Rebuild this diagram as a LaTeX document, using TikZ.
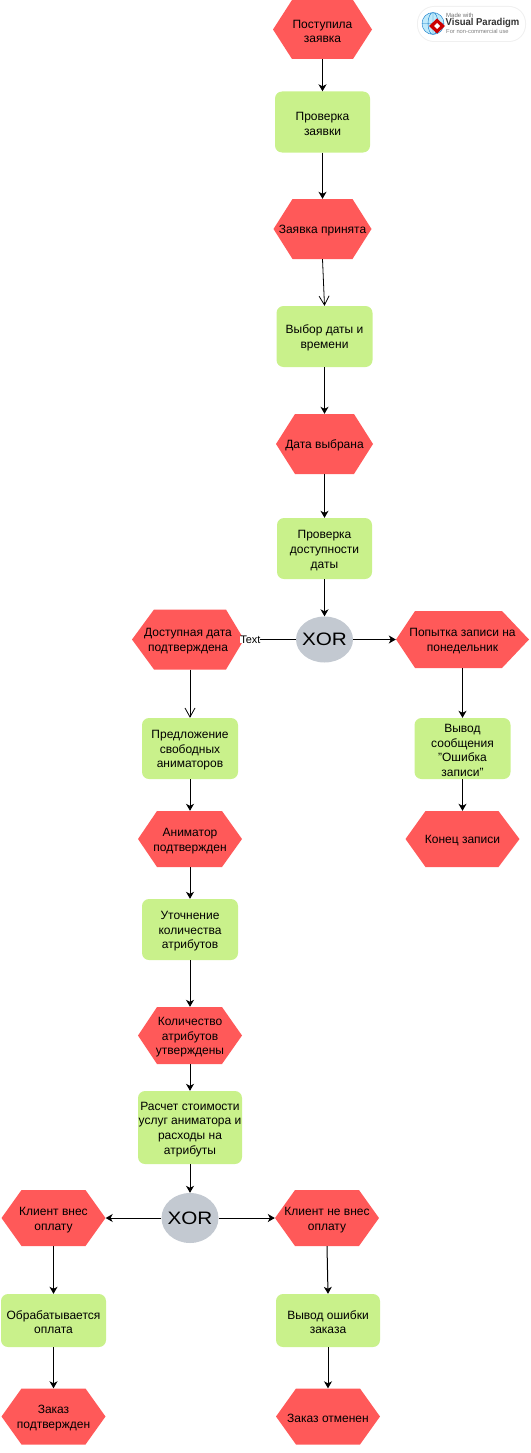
\documentclass[tikz,border=0pt]{standalone}
\usepackage{fontspec}
\usepackage{graphicx}
\setmainfont{Liberation Sans}
\usetikzlibrary{arrows.meta,shapes.geometric}
\definecolor{evred}{HTML}{FF5959}
\definecolor{fngreen}{HTML}{C9F18B}
\definecolor{xorgray}{HTML}{C3C9D1}
\newcommand{\tst}{\rule{0pt}{12pt}}
\tikzset{
 evhex/.style 2 args={inner sep=0pt,align=center,font=\fontsize{12}{14.7}\selectfont,
  path picture={
   \fill[evred] (path picture bounding box.west)
    -- ([xshift=#1 pt]path picture bounding box.north west)
    -- ([xshift=-#2 pt]path picture bounding box.north east)
    -- (path picture bounding box.east)
    -- ([xshift=-#2 pt]path picture bounding box.south east)
    -- ([xshift=#1 pt]path picture bounding box.south west) -- cycle;}},
 fnbox/.style={rectangle,rounded corners=7pt,fill=fngreen,inner sep=0pt,align=center,font=\fontsize{12}{14.7}\selectfont},
 xorgate/.style={ellipse,fill=xorgray,inner sep=0pt,font=\fontsize{18}{18}\selectfont},
 flow/.style={line width=1pt,-{Stealth[length=7pt,width=8pt,inset=2pt]}},
 openflow/.style={line width=.8pt,-{Straight Barb[length=9pt,width=10pt]}},
 vplogo/.style={inner sep=0pt,anchor=west},
}
\begin{document}
\begin{tikzpicture}[x=1pt,y=-1pt]
\useasboundingbox (0,0) rectangle (530,1453);

% top column
\node[evhex={19}{19},minimum width=99pt,minimum height=59pt] (got) at (322.5,29.5) {\tst Поступила\\заявка};
\node[fnbox,minimum width=95pt,minimum height=61pt] (check) at (322.5,122) {\tst Проверка\\заявки};
\node[evhex={19}{19},minimum width=98pt,minimum height=60pt] (accepted) at (322.5,229) {\tst Заявка принята};
\node[fnbox,minimum width=96pt,minimum height=61pt] (choose) at (324.5,336.5) {\tst Выбор даты и\\времени};
\node[evhex={19}{19},minimum width=97pt,minimum height=60pt] (chosen) at (324.5,444) {\tst Дата выбрана};
\node[fnbox,minimum width=95pt,minimum height=61pt] (avail) at (324.5,548.5) {\tst Проверка\\доступности\\даты};
\node[xorgate,minimum width=57pt,minimum height=46pt] (xorone) at (324.5,639.5) {\makebox[0pt]{\scalebox{1.15}[1]{XOR}}};

% left column
\node[evhex={22}{18},minimum width=112pt,minimum height=60pt] (free) at (188,639.5) {\tst Доступная дата\\подтверждена};
\node[fnbox,minimum width=96pt,minimum height=61pt] (offer) at (190,748.5) {\tst Предложение\\свободных\\аниматоров};
\node[evhex={19}{20},minimum width=104pt,minimum height=56pt] (anim) at (190,839) {\tst Аниматор\\подтвержден};
\node[fnbox,minimum width=96pt,minimum height=61pt] (props) at (190,929.5) {\tst Уточнение\\количества\\атрибутов};
\node[evhex={19}{20},minimum width=104pt,minimum height=57pt] (propsok) at (190,1035.5) {\tst Количество\\атрибутов\\утверждены};
\node[fnbox,minimum width=104pt,minimum height=73pt] (cost) at (190,1127.5) {\tst Расчет стоимости\\услуг аниматора и\\расходы на\\атрибуты};
\node[xorgate,minimum width=57pt,minimum height=50pt] (xortwo) at (190,1218) {\makebox[0pt]{\scalebox{1.15}[1]{XOR}}};

% right column
\node[evhex={19}{27},minimum width=133pt,minimum height=57pt] (monday) at (462.5,639.5) {\tst Попытка записи на\\понедельник};
\node[fnbox,minimum width=96pt,minimum height=61pt] (errmsg) at (462.5,748.5) {\tst Вывод\\сообщения\\"Ошибка\\записи"};
\node[evhex={20}{21},minimum width=114pt,minimum height=56pt] (endrec) at (462.5,839) {\tst Конец записи};

% bottom
\node[evhex={20}{20},minimum width=104pt,minimum height=56pt] (paid) at (53.5,1218) {\tst Клиент внес\\оплату};
\node[fnbox,minimum width=105pt,minimum height=53pt] (payproc) at (53.5,1320.5) {\tst Обрабатывается\\оплата};
\node[evhex={20}{20},minimum width=104pt,minimum height=56pt] (confirmed) at (53.5,1416.5) {\tst Заказ\\подтвержден};
\node[evhex={20}{20},minimum width=104pt,minimum height=56pt] (unpaid) at (327,1218) {\tst Клиент не внес\\оплату};
\node[fnbox,minimum width=104pt,minimum height=53pt] (orderr) at (328,1320.5) {\tst Вывод ошибки\\заказа};
\node[evhex={20}{20},minimum width=104pt,minimum height=56pt] (cancel) at (328,1416.5) {\tst Заказ отменен};

\draw[flow] (got.south) -- (check.north);
\draw[flow] (check.south) -- (accepted.north);
\draw[openflow] (accepted.south) -- (choose.north);
\draw[flow] (choose.south) -- (chosen.north);
\draw[flow] (chosen.south) -- (avail.north);
\draw[flow] (avail.south) -- (xorone.north);
\draw[line width=1pt] (xorone.west) -- (free.east) node[pos=.88,fill=white,inner sep=0pt,font=\fontsize{11}{11}\selectfont] (txt) {Text};
\draw[flow] (xorone.east) -- (monday.west);
\draw[openflow] ([xshift=2pt]free.south) -- (offer.north);
\draw[flow] (offer.south) -- (anim.north);
\draw[flow] (anim.south) -- (props.north);
\draw[flow] (props.south) -- (propsok.north);
\draw[flow] (propsok.south) -- (cost.north);
\draw[flow] (cost.south) -- (xortwo.north);
\draw[flow] (monday.south) -- (errmsg.north);
\draw[flow] (errmsg.south) -- (endrec.north);
\draw[flow] (xortwo.west) -- (paid.east);
\draw[flow] (xortwo.east) -- (unpaid.west);
\draw[flow] (paid.south) -- (payproc.north);
\draw[flow] (payproc.south) -- (confirmed.north);
\draw[flow] (unpaid.south) -- (orderr.north);
\draw[flow] (orderr.south) -- (cancel.north);

% logo
\fill[black!6,rounded corners=17pt] (417,6) rectangle (526,42);
\fill[white,rounded corners=16pt] (418,7) rectangle (525,41);
\fill[cyan!25!white] (433,23.5) circle (11);
\draw[cyan!60!blue,line width=.4pt] (433,23.5) circle (11) (422,23.5) -- (444,23.5) (433,12.5) -- (433,34.5) (433,23.5) ellipse (5 and 11);
\fill[red!80!black] (437,18.5) -- (445,26) -- (437,33.5) -- (429,26) -- cycle;
\fill[white] (437,23) -- (440,26) -- (437,29) -- (434,26) -- cycle;
\node[vplogo,text=black!55,font=\fontsize{6}{6}\selectfont] (vpmade) at (446,15) {Made with};
\node[vplogo,text=black!80,font=\fontsize{10}{10}\bfseries\selectfont] (vpname) at (445.5,23) {\scalebox{.95}[1]{Visual Paradigm}};
\node[vplogo,text=black!50,font=\fontsize{5.8}{6}\selectfont] (vpuse) at (446,31.5) {For non-commercial use};
\end{tikzpicture}
\end{document}
